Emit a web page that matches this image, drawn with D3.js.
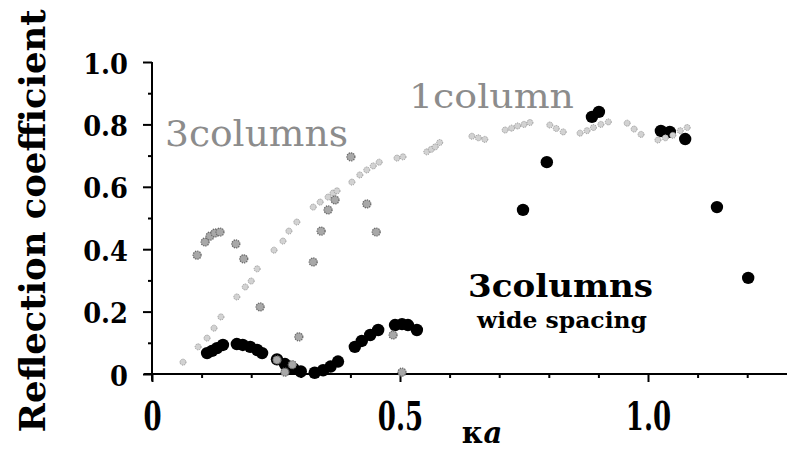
<!DOCTYPE html>
<html><head><meta charset="utf-8">
<script src="https://cdn.jsdelivr.net/npm/d3@7"></script>
<style>body{margin:0;background:#fff}svg{display:block}</style></head>
<body>
<svg id="c" width="787" height="452"></svg>
<script>
// ---- data ----
const oneColumnX = [0.0625,0.093,0.111,0.125,0.139,0.171,0.188,0.200,0.212,0.246,0.264,0.276,0.292,0.325,0.339,0.355,0.365,0.373,0.403,0.419,0.433,0.446,0.458,0.494,0.506,0.554,0.563,0.571,0.580,0.645,0.658,0.671,0.712,0.725,0.737,0.750,0.762,0.802,0.815,0.829,0.863,0.877,0.890,0.905,0.920,0.958,0.972,0.986,1.020,1.035,1.050,1.065,1.079];
const oneColumnY = [0.038,0.087,0.115,0.147,0.183,0.247,0.279,0.298,0.337,0.397,0.426,0.458,0.487,0.535,0.551,0.567,0.580,0.587,0.615,0.638,0.654,0.667,0.679,0.692,0.696,0.712,0.720,0.728,0.742,0.762,0.757,0.752,0.782,0.788,0.795,0.800,0.806,0.798,0.787,0.776,0.772,0.780,0.790,0.800,0.808,0.804,0.785,0.768,0.750,0.757,0.765,0.780,0.790];

const threeColumnsX = [0.091,0.107,0.117,0.127,0.137,0.169,0.185,0.218,0.252,0.268,0.283,0.296,0.325,0.341,0.355,0.369,0.401,0.433,0.452,0.486,0.504];
const threeColumnsY = [0.381,0.423,0.442,0.452,0.455,0.417,0.369,0.215,0.045,0.006,0.030,0.119,0.359,0.458,0.526,0.558,0.696,0.545,0.455,0.125,0.006];

const wideSpacingX = [0.111,0.121,0.131,0.143,0.171,0.183,0.198,0.212,0.222,0.252,0.268,0.285,0.300,0.328,0.345,0.360,0.375,0.409,0.423,0.440,0.456,0.490,0.504,0.516,0.534,0.748,0.796,0.887,0.901,1.026,1.044,1.075,1.139,1.202];
const wideSpacingY = [0.067,0.074,0.083,0.093,0.096,0.093,0.087,0.077,0.067,0.047,0.032,0.018,0.008,0.004,0.012,0.024,0.040,0.087,0.106,0.125,0.141,0.157,0.160,0.157,0.141,0.526,0.679,0.824,0.840,0.779,0.776,0.753,0.535,0.308];

const yMajorTicks = [0, 0.2, 0.4, 0.6, 0.8, 1.0];
const yMajorLabels = ["0", "0.2", "0.4", "0.6", "0.8", "1.0"];
const yMinorTicks = [0.1, 0.3, 0.5, 0.7, 0.9];
const xMajorTicks = [0, 0.5, 1.0];
const xMajorLabels = ["0", "0.5", "1.0"];
const xMinorTicks = [0.1, 0.2, 0.3, 0.4, 0.6, 0.7, 0.8, 0.9, 1.1, 1.2];

// ---- layout ----
const svg = d3.select("#c");
const x = d3.scaleLinear().domain([0, 1]).range([152, 648]);
const y = d3.scaleLinear().domain([0, 1]).range([374, 62]);
const serif = "'DejaVu Serif', serif";

// axes lines
svg.append("line").attr("x1", x(0)).attr("x2", x(0)).attr("y1", y(1)).attr("y2", y(-0.022))
  .attr("stroke", "#000").attr("stroke-width", 2);
svg.append("line").attr("x1", x(-0.016)).attr("x2", x(1.3)).attr("y1", y(0)).attr("y2", y(0))
  .attr("stroke", "#000").attr("stroke-width", 2);

// y axis ticks
const gy = svg.append("g").attr("transform", `translate(${x(0)},0)`);
gy.call(d3.axisLeft(y).tickValues(yMinorTicks).tickSize(4).tickSizeOuter(0).tickFormat(""));
gy.append("g").call(d3.axisLeft(y).tickValues(yMajorTicks).tickSize(9).tickSizeOuter(0)
  .tickFormat((d, i) => yMajorLabels[i]));
gy.selectAll(".domain").remove();
gy.selectAll("line").attr("stroke", "#000").attr("stroke-width", 2);
gy.selectAll("text").attr("x", null).attr("dy", null)
  .attr("font-family", serif).attr("font-weight", "bold").attr("font-size", 28)
  .attr("fill", "#000").attr("text-anchor", "end")
  .attr("transform", "translate(-24,11) scale(0.92,1)");

// x axis ticks
const gx = svg.append("g").attr("transform", `translate(0,${y(0)})`);
gx.call(d3.axisBottom(x).tickValues(xMinorTicks).tickSize(4).tickSizeOuter(0).tickFormat(""));
gx.append("g").call(d3.axisBottom(x).tickValues(xMajorTicks).tickSize(8).tickSizeOuter(0)
  .tickFormat((d, i) => xMajorLabels[i]));
gx.selectAll(".domain").remove();
gx.selectAll("line").attr("stroke", "#000").attr("stroke-width", 2);
gx.selectAll("text").attr("y", null).attr("dy", null)
  .attr("font-family", serif).attr("font-weight", "bold").attr("font-size", 28)
  .attr("fill", "#000").attr("text-anchor", "middle")
  .attr("transform", "translate(0,56) scale(0.93,1.4)");

// axis titles
svg.append("text").attr("transform", "translate(45,221) rotate(-90)")
  .attr("text-anchor", "middle").attr("font-family", serif).attr("font-weight", "bold")
  .attr("font-size", 36).attr("textLength", 423).attr("lengthAdjust", "spacingAndGlyphs")
  .text("Reflection coefficient");
const xt = svg.append("text").attr("x", 482).attr("y", 443).attr("text-anchor", "middle")
  .attr("font-family", serif).attr("font-weight", "bold").attr("font-size", 29);
xt.append("tspan").text("κ");
xt.append("tspan").attr("font-style", "italic").text("a");

// data marks: black first, grey on top
svg.append("g").selectAll("circle").data(wideSpacingX).join("circle")
  .attr("cx", d => x(d)).attr("cy", (d, i) => y(wideSpacingY[i])).attr("r", 6.2)
  .attr("fill", "#000");

svg.append("g").selectAll("circle").data(oneColumnX).join("circle")
  .attr("cx", d => x(d)).attr("cy", (d, i) => y(oneColumnY[i])).attr("r", 3)
  .attr("fill", "#d2d2d2").attr("stroke", "#969696").attr("stroke-width", 1)
  .attr("stroke-dasharray", "1.2,1");

svg.append("g").selectAll("circle").data(threeColumnsX).join("circle")
  .attr("cx", d => x(d)).attr("cy", (d, i) => y(threeColumnsY[i])).attr("r", 4)
  .attr("fill", "#a8a8a8").attr("stroke", "#6a6a6a").attr("stroke-width", 1.3)
  .attr("stroke-dasharray", "1.3,1");

// in-plot labels
svg.append("text").attr("x", 165).attr("y", 146).attr("font-family", serif)
  .attr("font-size", 35).attr("fill", "#8c8c8c").attr("textLength", 183)
  .attr("lengthAdjust", "spacingAndGlyphs").text("3columns");
svg.append("text").attr("x", 409).attr("y", 108).attr("font-family", serif)
  .attr("font-size", 33).attr("fill", "#8c8c8c").attr("textLength", 165)
  .attr("lengthAdjust", "spacingAndGlyphs").text("1column");
svg.append("text").attr("x", 468).attr("y", 297).attr("font-family", serif)
  .attr("font-weight", "bold").attr("font-size", 32).attr("textLength", 185)
  .attr("lengthAdjust", "spacingAndGlyphs").text("3columns");
svg.append("text").attr("x", 477).attr("y", 328).attr("font-family", serif)
  .attr("font-weight", "bold").attr("font-size", 22).attr("textLength", 170)
  .attr("lengthAdjust", "spacingAndGlyphs").text("wide spacing");
</script>
</body></html>
